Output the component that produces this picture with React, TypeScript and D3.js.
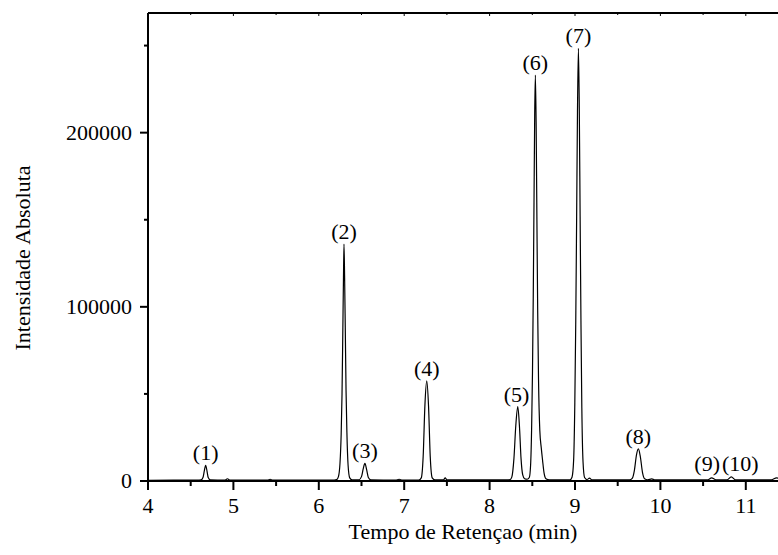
import React from "react";
import * as d3 from "d3";

// chromatogram trace: [time (min), intensity]
const trace: [number, number][] = [
  [4.0, 400], [4.3, 500], [4.6, 500], [4.62, 600], [4.645, 2200], [4.66, 6000], [4.675, 9000],
  [4.69, 6000], [4.705, 2000], [4.73, 600], [4.9, 500], [4.93, 1300], [4.96, 500],
  [5.4, 500], [5.43, 1000], [5.46, 500], [6.18, 500],
  [6.21, 800], [6.23, 2500], [6.248, 10000], [6.262, 27000], [6.272, 50000], [6.281, 85000],
  [6.289, 117000], [6.295, 136000], [6.302, 118000], [6.31, 88000], [6.319, 52000],
  [6.329, 28000], [6.343, 9000], [6.362, 1800], [6.39, 600],
  [6.47, 700], [6.5, 2500], [6.52, 7000], [6.54, 10100], [6.56, 6500], [6.58, 2000], [6.61, 700],
  [6.9, 500], [6.94, 1000], [6.98, 500], [7.17, 500],
  [7.2, 1800], [7.222, 14000], [7.243, 44000], [7.264, 57500], [7.285, 43000], [7.305, 14000],
  [7.328, 1800], [7.36, 600], [7.46, 600], [7.48, 1800], [7.5, 600],
  [8.2, 600], [8.24, 800], [8.26, 2200], [8.285, 13000], [8.307, 32000], [8.33, 42700],
  [8.35, 31000], [8.368, 13000], [8.388, 3500], [8.41, 1300], [8.44, 1000],
  [8.465, 2000], [8.48, 9000], [8.492, 30000], [8.502, 62000], [8.511, 105000], [8.52, 160000],
  [8.528, 210000], [8.536, 233000], [8.545, 205000], [8.554, 150000], [8.563, 98000],
  [8.573, 58000], [8.588, 29000], [8.605, 19000], [8.62, 12000], [8.638, 4500], [8.66, 1300],
  [8.7, 600],
  [8.94, 600], [8.965, 2200], [8.984, 12000], [8.998, 45000], [9.009, 92000], [9.019, 150000],
  [9.029, 212000], [9.04, 248400], [9.05, 215000], [9.06, 152000], [9.07, 90000],
  [9.08, 42000], [9.094, 11000], [9.112, 2000], [9.14, 800], [9.17, 1600], [9.2, 600],
  [9.64, 700], [9.67, 1500], [9.695, 6000], [9.72, 15000], [9.742, 18400], [9.765, 14000],
  [9.79, 5000], [9.815, 1300], [9.85, 700], [9.9, 1200], [9.93, 700],
  [10.55, 600], [10.6, 1800], [10.65, 700], [10.78, 700], [10.83, 2400], [10.88, 700],
  [11.3, 700], [11.36, 1800], [11.42, 800],
];

// peak labels: text, time and intensity at which they sit
const peakNames = ["(1)", "(2)", "(3)", "(4)", "(5)", "(6)", "(7)", "(8)", "(9)", "(10)"];
const peakTimes = [4.675, 6.295, 6.54, 7.264, 8.315, 8.536, 9.04, 9.742, 10.548, 10.935];
const peakValues = [9000, 136000, 10100, 57500, 42700, 233000, 248400, 18400, 3000, 3000];

const xTicks = [4, 5, 6, 7, 8, 9, 10, 11];
const xMinorTicks = [4.5, 5.5, 6.5, 7.5, 8.5, 9.5, 10.5];
const yTicks = [0, 100000, 200000];
const yMinorTicks = [50000, 150000, 250000];

const xLabel = "Tempo de Retençao (min)";
const yLabel = "Intensidade Absoluta";

const W = 778;
const H = 555;
const left = 148;
const right = 778;
const top = 13;
const bottom = 481;

export default function App() {
  const x = d3.scaleLinear().domain([4, 4 + (right - left) / 85.4]).range([left, right]);
  const y = d3.scaleLinear().domain([0, 268700]).range([bottom, top]);

  const line = d3
    .line<[number, number]>()
    .x((d) => x(d[0]))
    .y((d) => y(d[1]))
    .curve(d3.curveMonotoneX);

  return (
    <svg
      width={W}
      height={H}
      style={{
        position: "absolute",
        left: 0,
        top: 0,
        background: "#fff",
        fontFamily: '"Liberation Serif", "DejaVu Serif", serif',
        fontSize: 22,
      }}
    >
      <path d={line(trace) || ""} fill="none" stroke="#000" strokeWidth={1.2} />

      {/* frame */}
      <line x1={left} x2={right} y1={top} y2={top} stroke="#000" strokeWidth={2} />
      <line x1={left} x2={left} y1={top} y2={bottom} stroke="#000" strokeWidth={2} />
      <line x1={left} x2={right} y1={bottom} y2={bottom} stroke="#000" strokeWidth={2} />

      {/* x axis */}
      {xTicks.map((t) => (
        <g key={"x" + t}>
          <line x1={x(t)} x2={x(t)} y1={bottom} y2={bottom + 9} stroke="#000" strokeWidth={2} />
          <line x1={x(t)} x2={x(t)} y1={top} y2={top + 3} stroke="#000" strokeWidth={1} />
          <text x={x(t)} y={513} textAnchor="middle">{t}</text>
        </g>
      ))}
      {xMinorTicks.map((t) => (
        <g key={"xm" + t}>
          <line x1={x(t)} x2={x(t)} y1={bottom} y2={bottom + 5} stroke="#000" strokeWidth={2} />
          <line x1={x(t)} x2={x(t)} y1={top} y2={top + 2} stroke="#000" strokeWidth={1} />
        </g>
      ))}

      {/* y axis */}
      {yTicks.map((v) => (
        <g key={"y" + v}>
          <line x1={left - 8} x2={left} y1={y(v)} y2={y(v)} stroke="#000" strokeWidth={2} />
          <text x={132} y={y(v) + 7} textAnchor="end">{v}</text>
        </g>
      ))}
      {yMinorTicks.map((v) => (
        <line key={"ym" + v} x1={left - 4} x2={left} y1={y(v)} y2={y(v)} stroke="#000" strokeWidth={2} />
      ))}

      {/* peak labels */}
      {peakNames.map((n, i) => (
        <text key={n} x={x(peakTimes[i])} y={y(peakValues[i]) - 5} textAnchor="middle">
          {n}
        </text>
      ))}

      <text x={(left + right) / 2} y={539} textAnchor="middle">{xLabel}</text>
      <text transform={`translate(30,258) rotate(-90)`} textAnchor="middle">{yLabel}</text>
    </svg>
  );
}
